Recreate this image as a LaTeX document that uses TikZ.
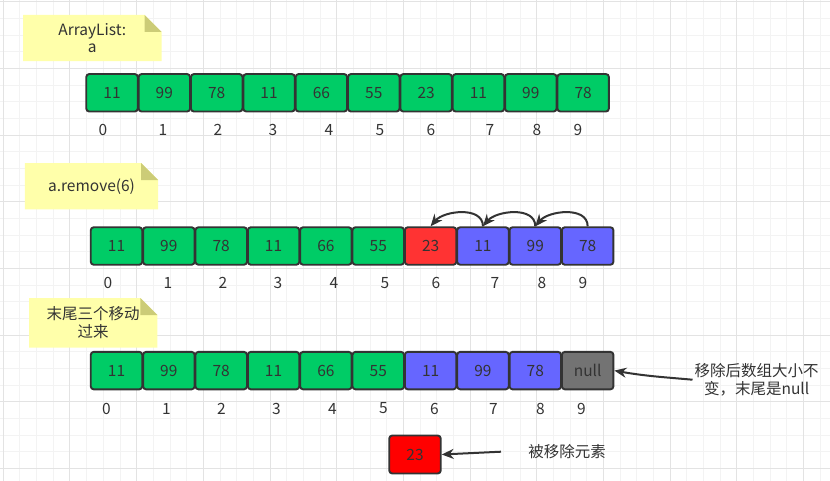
\documentclass[tikz,border=0pt]{standalone}
\usepackage{fontspec}
\setmainfont{Noto Sans CJK SC}
\usetikzlibrary{arrows.meta,backgrounds}

\definecolor{cellgreen}{HTML}{00CC66}
\definecolor{cellblue}{HTML}{6666FF}
\definecolor{cellred}{HTML}{FF3333}
\definecolor{cellgrey}{HTML}{737373}
\definecolor{notefill}{HTML}{FFFFAA}
\definecolor{notefold}{HTML}{CCCC77}
\definecolor{ink}{HTML}{333333}
\definecolor{gridminor}{HTML}{F3F3F3}
\definecolor{gridmajor}{HTML}{E3E3E3}

\newcommand*{\pitch}{52.35}
\newcommand*{\labelfont}{\fontsize{15.5}{17.5}\selectfont}
% yellow paper with a folded corner behind a note node
\newcommand*{\notepaper}[1]{%
  \fill[notefill] (#1.south west) |- ([xshift=-17pt]#1.north east)
    -- ([yshift=-17pt]#1.north east) -- (#1.south east) -- cycle;
  \fill[notefold] ([xshift=-17pt]#1.north east)
    -- ([xshift=-17pt,yshift=-17pt]#1.north east)
    -- ([yshift=-17pt]#1.north east) -- cycle;
}

\begin{document}
\begin{tikzpicture}
[
	x=1pt,
	y=1pt,
	cell/.style={draw=ink,line width=1.9pt,rounded corners=3pt,minimum width=51.5pt,
	  minimum height=37.5pt,inner sep=0pt,text=ink,font=\labelfont},
	idx/.style={text=ink,font=\labelfont,inner sep=2pt},
	note/.style={text=ink,font=\labelfont,align=center,inner sep=0pt},
	conn/.style={draw=ink,line width=2pt,-{Stealth[length=12pt,width=10pt]}}
]
	\useasboundingbox (0,0) rectangle (830,-481);

	% background grid
	\begin{scope}[on background layer]
	  \fill[white] (0,0) rectangle (830,-481);
	  \foreach \k in {0,...,49}
	    \draw[gridminor,line width=1pt] ({3.33+16.667*\k},0) -- ++(0,-481);
	  \foreach \k in {0,...,28}
	    \draw[gridminor,line width=1pt] (0,{-1.67-16.667*\k}) -- ++(830,0);
	  \foreach \k in {0,4,...,48}
	    \draw[gridmajor,line width=1pt] ({3.33+16.667*\k},0) -- ++(0,-481);
	  \foreach \k in {0,4,...,28}
	    \draw[gridmajor,line width=1pt] (0,{-1.67-16.667*\k}) -- ++(830,0);
	\end{scope}

	% notes
	\node[note,minimum width=138pt,minimum height=46pt] (list) at (92.3,-38) {ArrayList:\\a};
	\node[note,minimum width=133pt,minimum height=46pt] (call) at (91.5,-186.3) {a.remove(6)};
	\node[note,minimum width=128pt,minimum height=49pt] (shift) at (93.2,-322.8) {末尾三个移动\\过来};
	\begin{scope}[on background layer]
	  \notepaper{list}
	  \notepaper{call}
	  \notepaper{shift}
	\end{scope}

	% the three arrays
	\foreach \v [count=\i from 0] in {11,99,78,11,66,55,23,11,99,78}
	  \node[cell,fill=cellgreen] (a-\i) at ({112+\pitch*\i},-92.8) {\v};
	\foreach \v/\c [count=\i from 0] in {11/cellgreen,99/cellgreen,78/cellgreen,
	    11/cellgreen,66/cellgreen,55/cellgreen,23/cellred,11/cellblue,99/cellblue,78/cellblue}
	  \node[cell,fill=\c] (b-\i) at ({116.5+\pitch*\i},-246) {\v};
	\foreach \v/\c [count=\i from 0] in {11/cellgreen,99/cellgreen,78/cellgreen,
	    11/cellgreen,66/cellgreen,55/cellgreen,11/cellblue,99/cellblue,78/cellblue,null/cellgrey}
	  \node[cell,fill=\c] (c-\i) at ({116.5+\pitch*\i},-370.6) {\v};

	% indices
	\foreach \p [count=\i from 0] in {103,163,218,273,329,380,431,490,537,578} {
	  \node[idx] (ia-\i) at (\p,-130) {\i};
	  \node[idx] (ib-\i) at ({\p+5},-283.3) {\i};
	  \node[idx] (ic-\i) at ({\p+3.5},-408.5) {\i};
	}

	% moves
	\draw[conn] (b-9.north) to[out=90,in=50] (b-8.north);
	\draw[conn] (b-8.north) to[out=90,in=50] (b-7.north);
	\draw[conn] (b-7.north) to[out=90,in=50] (b-6.north);

	% removed element
	\node[cell,fill=red,minimum height=38pt] (gone) at (415,-454.5) {23};

	% remarks
	\node[idx,align=center] (keep) at (756.7,-379.7) {移除后数组大小不\\变，末尾是null};
	\draw[conn] (keep.west) to[out=175,in=-10] (c-9.east);

	\node[idx] (gonetext) at (567,-452) {被移除元素};
	\coordinate (gonetail) at (501,-451.7);
	\draw[conn] (gonetail) -- (gone.east);

\end{tikzpicture}
\end{document}
